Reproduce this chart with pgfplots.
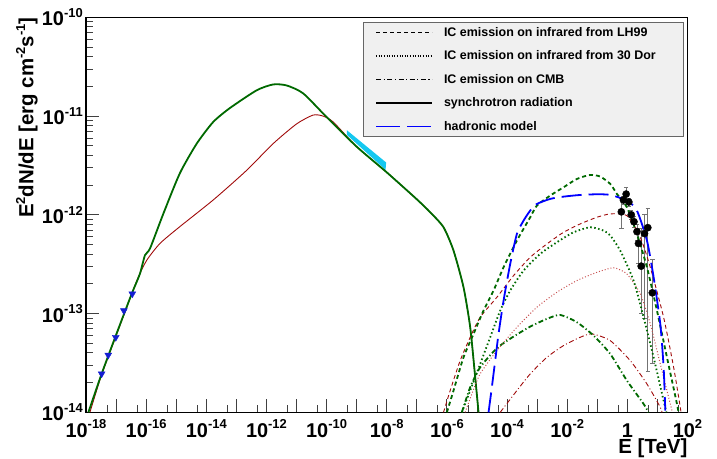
\documentclass[border=0pt]{standalone}
\usepackage{fontspec}
\setmainfont{Liberation Sans}
\usepackage{pgfplots}
\pgfplotsset{compat=1.18}

\definecolor{syngreen}{RGB}{0,105,0}
\definecolor{synred}{RGB}{160,10,10}
\definecolor{dotred}{RGB}{200,80,80}
\definecolor{bandcyan}{RGB}{20,200,240}
\definecolor{tribl}{RGB}{20,30,210}

% 10^{n} in the text font, as ROOT sets it
\newcommand{\tp}[1]{10\raisebox{8.4bp}{\fontsize{13}{13}\selectfont #1}}
\newcommand{\sps}[1]{\raisebox{8.4bp}{\fontsize{13}{13}\selectfont #1}}
\newcommand{\ent}[1]{\makebox[227bp][l]{\rule[-3bp]{0pt}{10bp}#1}}

\begin{document}
\begin{tikzpicture}
\begin{axis}[
    scale only axis, width=601.5bp, height=395bp,
    xmode=log, ymode=log,
    xmin=1e-18, xmax=1e2, ymin=1e-14, ymax=1e-10,
    xtick={1e-18,1e-17,1e-16,1e-15,1e-14,1e-13,1e-12,1e-11,1e-10,1e-9,1e-8,1e-7,1e-6,1e-5,1e-4,1e-3,1e-2,1e-1,1,1e1,1e2},
    xticklabels={\tp{-18},{},\tp{-16},{},\tp{-14},{},\tp{-12},{},\tp{-10},{},\tp{-8},{},\tp{-6},{},\tp{-4},{},\tp{-2},{},1,{},\tp{2}},
    minor xtick={5e-18,5e-17,5e-16,5e-15,5e-14,5e-13,5e-12,5e-11,5e-10,5e-9,5e-8,5e-7,5e-6,5e-5,5e-4,5e-3,5e-2,5e-1,5,50},
    ytick={1e-14,1e-13,1e-12,1e-11,1e-10},
    yticklabels={\tp{-14},\tp{-13},\tp{-12},\tp{-11},\tp{-10}},
    minor ytick={2e-14,3e-14,4e-14,5e-14,6e-14,7e-14,8e-14,9e-14,
                 2e-13,3e-13,4e-13,5e-13,6e-13,7e-13,8e-13,9e-13,
                 2e-12,3e-12,4e-12,5e-12,6e-12,7e-12,8e-12,9e-12,
                 2e-11,3e-11,4e-11,5e-11,6e-11,7e-11,8e-11,9e-11},
    xtick pos=bottom, ytick pos=left, tick align=inside,
    major tick length=13bp, minor tick length=7bp,
    tick style={black!75, line width=0.8bp},
    axis line style={line width=1.6bp},
    tick label style={font=\fontsize{20}{24}\selectfont\bfseries, inner sep=0pt},
    xticklabel style={anchor=base, yshift=-25bp},
    yticklabel style={xshift=-3bp},
    legend style={at={(0.9934,0.9889)}, anchor=north east, fill=black!6,
        draw=black!60, line width=1bp,
        font=\fontsize{12.5}{15}\selectfont\bfseries,
        inner xsep=12bp, inner ysep=5bp, row sep=13bp,
        nodes={inner sep=0pt, font=\fontsize{12.5}{15}\selectfont\bfseries},
        /tikz/every odd column/.append style={column sep=11bp}},
    legend cell align=left,
    legend image code/.code={\draw[#1] (0bp,0bp) -- (56bp,0bp);},
]

% optical/X-ray band
\addplot[forget plot, draw=none, fill=bandcyan] coordinates {
    (4.710e-10,7.194e-12) (9.550e-9,3.388e-12) (9.120e-9,2.851e-12) (4.710e-10,6.457e-12)
} -- cycle;

% H.E.S.S. points
\addplot[forget plot, only marks, mark=*, mark size=3.6bp,
    mark options={fill=black, draw=black},
    error bars/.cd, y dir=both, y explicit,
    error bar style={line width=0.9bp, black!55},
    error mark options={rotate=90, mark size=2.2bp, line width=0.9bp, black!55}]
coordinates {
    (0.631,1.072e-12) += (0,4.07e-13) -= (0,3.48e-13)
    (0.741,1.413e-12) += (0,1.3e-13) -= (0,1.3e-13)
    (0.912,1.622e-12) += (0,2.83e-13) -= (0,2.42e-13)
    (1.122,1.349e-12) += (0,1.2e-13) -= (0,1.2e-13)
    (1.349,1.000e-12) += (0,1.1e-13) -= (0,1.1e-13)
    (1.660,8.51e-13) += (0,1.1e-13) -= (0,1.1e-13)
    (2.089,6.76e-13) += (0,1.2e-13) -= (0,1.2e-13)
    (2.344,5.13e-13) += (0,2.11e-13) -= (0,1.89e-13)
    (2.884,3.02e-13) += (0,4.22e-13) -= (0,2.02e-13)
    (3.715,6.46e-13) += (0,3.54e-13) -= (0,5.57e-13)
    (4.786,7.41e-13) += (0,4.07e-13) -= (0,7.15e-13)
    (6.761,1.622e-13) += (0,1.93e-13) -= (0,1.31e-13)
};

% radio upper limits
\addplot[forget plot, only marks, mark=triangle*, mark size=4bp,
    mark options={rotate=180, fill=tribl, draw=tribl}] coordinates {
    (3.311e-18,2.455e-14) (5.495e-18,3.802e-14) (9.772e-18,5.754e-14)
    (1.820e-17,1.072e-13) (3.467e-17,1.585e-13)
};

% synchrotron, model 2 (red)
\addplot[forget plot, synred, line width=0.9bp, smooth, tension=0.4] coordinates {
    (1.349e-18,1e-14) (3.311e-18,2.399e-14) (1.047e-17,6.166e-14) (3.162e-17,1.514e-13)
    (5.495e-17,2.344e-13) (1.047e-16,3.467e-13) (2.884e-16,5.129e-13) (1.318e-15,7.586e-13)
    (1.698e-14,1.413e-12) (2.188e-13,2.818e-12) (1.660e-12,5.248e-12) (1e-11,8.318e-12)
    (3.548e-11,1.023e-11) (7.586e-11,1e-11) (1.660e-10,8.710e-12) (1e-9,4.898e-12)
    (1e-8,2.692e-12) (9.772e-8,1.445e-12) (2.780e-7,1.062e-12) (7.727e-7,7.482e-13)
    (1.660e-6,4.345e-13) (3.573e-6,1.845e-13) (5.957e-6,7.261e-14) (8.730e-6,2.265e-14)
    (1.127e-5,1e-14)
};

% synchrotron, model 1 (green)
\addplot[forget plot, syngreen, line width=1.8bp, smooth, tension=0.4] coordinates {
    (1.202e-18,1e-14) (3.311e-18,2.455e-14) (1.047e-17,6.310e-14) (3.311e-17,1.585e-13)
    (6.166e-17,2.512e-13) (9.120e-17,3.890e-13) (1.349e-16,4.571e-13) (3.715e-16,1.023e-12)
    (1.318e-15,2.630e-12) (4.786e-15,5.248e-12) (1.698e-14,8.710e-12) (6.026e-14,1.202e-11)
    (4.677e-13,1.820e-11) (1.660e-12,2.089e-11) (4.677e-12,2.042e-11) (1.660e-11,1.698e-11)
    (1e-10,9.772e-12) (1e-9,4.898e-12) (1e-8,2.692e-12) (9.772e-8,1.445e-12)
    (2.780e-7,1.062e-12) (7.727e-7,7.482e-13) (1.660e-6,4.345e-13) (3.573e-6,1.845e-13)
    (5.957e-6,7.261e-14) (8.730e-6,2.265e-14) (1.127e-5,1e-14)
};

% IC on CMB
\addplot[forget plot, synred, line width=0.9bp, dash pattern=on 5bp off 2.5bp on 1bp off 2.5bp, smooth, tension=0.4] coordinates {
    (5.929e-5,1e-14) (2.123e-4,1.660e-14) (5.902e-4,2.449e-14) (2.113e-3,3.606e-14)
    (7.586e-3,4.742e-14) (2.716e-2,5.754e-14) (6.637e-2,6.223e-14) (2.704e-1,5.321e-14)
    (1.250,3.334e-14) (4.487,1.936e-14) (12.45,1.125e-14) (14.13,1e-14)
};
\addplot[forget plot, syngreen, line width=1.8bp, dash pattern=on 5bp off 2.5bp on 1.2bp off 2.5bp, smooth, tension=0.4] coordinates {
    (3.141e-6,1e-14) (5.957e-6,1.795e-14) (1.280e-5,2.858e-14) (4.592e-5,4.457e-14)
    (1.644e-4,5.848e-14) (5.902e-4,7.379e-14) (2.113e-3,8.831e-14) (5.861e-3,9.683e-14)
    (2.104e-2,8.166e-14) (7.534e-2,5.984e-14) (2.704e-1,3.899e-14) (9.694e-1,2.094e-14)
    (3.475,1.216e-14) (5.012,1e-14)
};

% IC on infrared from 30 Dor
\addplot[forget plot, dotred, line width=1bp, dash pattern=on 1bp off 2bp, smooth, tension=0.4] coordinates {
    (4.055e-6,1e-14) (6.761e-6,1.535e-14) (1.280e-5,2.455e-14) (4.592e-5,4.217e-14)
    (2.123e-4,7.261e-14) (9.817e-4,1.159e-13) (4.550e-3,1.644e-13) (2.104e-2,2.158e-13)
    (9.727e-2,2.618e-13) (2.704e-1,2.877e-13) (3.981e-1,2.897e-13) (9.694e-1,2.518e-13)
    (2.692,1.585e-13) (5.794,7.852e-14) (12.45,3.090e-14) (26.79,1.216e-14) (31.62,1e-14)
};
\addplot[forget plot, syngreen, line width=1.8bp, dash pattern=on 1.5bp off 2.5bp, smooth, tension=0.4] coordinates {
    (3.141e-6,1e-14) (5.957e-6,1.660e-14) (1.280e-5,3.090e-14) (2.754e-5,5.754e-14)
    (5.929e-5,1.072e-13) (1.274e-4,1.710e-13) (3.540e-4,2.723e-13) (1.268e-3,4.018e-13)
    (4.550e-3,5.272e-13) (1.629e-2,6.653e-13) (5.848e-2,7.482e-13) (1.622e-1,6.918e-13)
    (2.704e-1,6.166e-13) (5.821e-1,4.335e-13) (1.614,2.153e-13) (3.475,9.162e-14)
    (7.464,3.606e-14) (16.07,1.312e-14) (19.95,1e-14)
};

% IC on infrared from LH99
\addplot[forget plot, synred, line width=0.9bp, dash pattern=on 4bp off 3bp, smooth, tension=0.4] coordinates {
    (7.727e-7,1e-14) (1.285e-6,1.660e-14) (2.767e-6,3.342e-14) (5.957e-6,5.754e-14)
    (1.280e-5,9.183e-14) (4.592e-5,1.462e-13) (1.644e-4,2.421e-13) (5.902e-4,3.715e-13)
    (2.113e-3,5.070e-13) (7.586e-3,6.653e-13) (2.716e-2,8.091e-13) (9.727e-2,9.441e-13)
    (2.704e-1,1.021e-12) (9.694e-1,9.817e-13) (2.692,5.916e-13) (5.794,2.944e-13)
    (16.07,9.162e-14) (34.59,2.858e-14) (57.68,1.122e-14) (60.26,1e-14)
};
\addplot[forget plot, syngreen, line width=1.8bp, dash pattern=on 4bp off 3bp, smooth, tension=0.4] coordinates {
    (1e-6,1e-14) (1.660e-6,1.660e-14) (3.573e-6,3.606e-14) (7.691e-6,6.223e-14)
    (1.652e-5,1.072e-13) (3.556e-5,1.710e-13) (7.656e-5,2.944e-13) (2.123e-4,5.483e-13)
    (5.902e-4,9.441e-13) (9.817e-4,1.239e-12) (2.729e-3,1.567e-12) (7.586e-3,1.901e-12)
    (2.104e-2,2.307e-12) (5.848e-2,2.535e-12) (1.256e-1,2.438e-12) (2.704e-1,2.056e-12)
    (4.508e-1,1.626e-12) (9.694e-1,1.191e-12) (2.084,6.397e-13) (4.487,2.944e-13)
    (9.661,1.072e-13) (20.75,3.606e-14) (44.67,1.216e-14) (50.12,1e-14)
};

% hadronic model
\addplot[forget plot, blue, line width=1.8bp, dash pattern=on 20bp off 7bp, smooth, tension=0.4] coordinates {
    (2.427e-5,1e-14) (3.126e-5,1.795e-14) (4.036e-5,3.342e-14) (5.212e-5,6.223e-14)
    (7.656e-5,1.352e-13) (1.274e-4,3.184e-13) (2.123e-4,6.397e-13) (3.540e-4,8.730e-13)
    (5.902e-4,1.104e-12) (9.817e-4,1.288e-12) (2.729e-3,1.449e-12) (7.586e-3,1.528e-12)
    (2.716e-2,1.589e-12) (9.727e-2,1.614e-12) (2.704e-1,1.589e-12) (9.694e-1,1.393e-12)
    (2.084,1.102e-12) (4.487,5.483e-13) (7.482,2.328e-13) (12.45,7.852e-14)
    (16.07,2.858e-14) (18.28,1.040e-14)
};

\addlegendimage{black, line width=1.3bp, dash pattern=on 4bp off 3bp}
\addlegendentry{\ent{IC emission on infrared from LH99}}
\addlegendimage{black, line width=1.1bp, dash pattern=on 1bp off 1.6bp}
\addlegendentry{\ent{IC emission on infrared from 30 Dor}}
\addlegendimage{black, line width=1.3bp, dash pattern=on 5bp off 2.5bp on 1.2bp off 2.5bp}
\addlegendentry{\ent{IC emission on CMB}}
\addlegendimage{black, line width=1.5bp}
\addlegendentry{\ent{synchrotron radiation}}
\addlegendimage{blue, line width=1.8bp, dash pattern=on 24bp off 7bp}
\addlegendentry{\ent{hadronic model}}
\end{axis}

\node[rotate=90, anchor=base east, inner sep=0pt, font=\fontsize{20.5}{24}\selectfont\bfseries]
    at ([xshift=-52.5bp]current axis.north west)
    {E\sps{2}dN/dE [erg cm\sps{-2}s\sps{-1}]};
\node[anchor=base east, inner sep=0pt, font=\fontsize{20.5}{24}\selectfont\bfseries]
    at ([yshift=-41.5bp]current axis.south east) {E [TeV]};

\pgfresetboundingbox
\useasboundingbox ([xshift=-86bp,yshift=-46.7bp]current axis.south west)
    rectangle ([xshift=29.5bp,yshift=17.3bp]current axis.north east);
\end{tikzpicture}
\end{document}
